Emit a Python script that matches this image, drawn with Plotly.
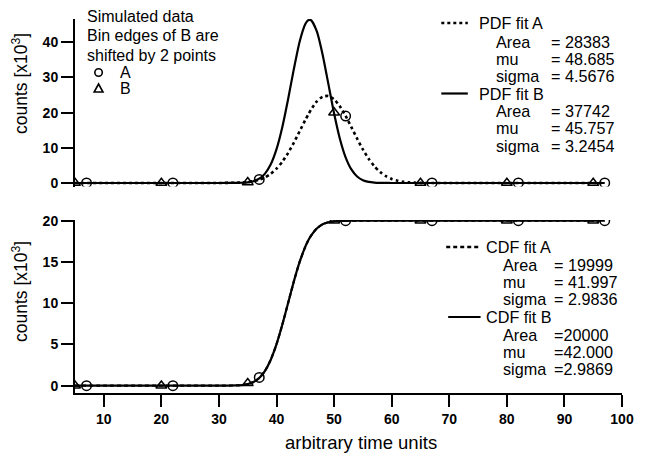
import plotly.graph_objects as go
from plotly.subplots import make_subplots

# ---------------- data ----------------
x_a = [7, 22, 37, 52, 67, 82, 97]          # bin centres, data set A
x_b = [5, 20, 35, 50, 65, 80, 95]          # bin centres, data set B (shifted by 2)
pdf_a = [0, 0, 1.0, 19.0, 0, 0, 0]
pdf_b = [0, 0, 0.2, 20.0, 0, 0, 0]
cdf_a = [0, 0, 1.0, 20.0, 20.0, 20.0, 20.0]
cdf_b = [0, 0, 0.3, 20.0, 20.0, 20.0, 20.0]

x_fit = [5, 10, 15, 20, 25, 30, 33, 34, 35, 36, 37, 38, 39, 40, 41, 42, 43, 44, 45,
         45.5, 46, 47, 48, 49, 50, 51, 52, 53, 54, 55, 56, 57, 58, 59, 60, 61, 62,
         63, 64, 65, 66, 67, 70, 75, 80, 85, 90, 95, 97]
pdf_fit_a = [0, 0, 0, 0, 0, 0, 0.07, 0.14, 0.28, 0.52, 0.94, 1.61, 2.62, 4.07, 6.02,
             8.50, 11.43, 14.65, 17.90, 19.4, 20.86, 23.16, 24.51, 24.73, 23.78, 21.80,
             19.05, 15.87, 12.59, 9.53, 6.88, 4.73, 3.10, 1.94, 1.15, 0.65, 0.35, 0.18,
             0.09, 0.04, 0.02, 0.01, 0, 0, 0, 0, 0, 0, 0]
pdf_fit_b = [0, 0, 0, 0, 0, 0, 0.02, 0.07, 0.19, 0.51, 1.22, 2.67, 5.31, 9.62, 15.85,
             23.74, 32.3, 40.07, 45.15, 46.24, 46.26, 43.1, 36.54, 28.16, 19.74, 12.58,
             7.29, 3.85, 1.84, 0.80, 0.32, 0.12, 0.04, 0.01, 0, 0, 0, 0, 0, 0, 0, 0,
             0, 0, 0, 0, 0, 0, 0]
cdf_fit_a = [0, 0, 0, 0, 0, 0, 0.03, 0.07, 0.19, 0.44, 0.94, 1.80, 3.15, 5.03, 7.38,
             10.0, 12.62, 14.97, 16.85, 17.6, 18.20, 19.06, 19.56, 19.81, 19.93, 19.97,
             19.99, 20, 20, 20, 20, 20, 20, 20, 20, 20, 20, 20, 20, 20, 20, 20, 20, 20,
             20, 20, 20, 20, 20]
cdf_fit_b = [0, 0, 0, 0, 0, 0, 0.03, 0.07, 0.19, 0.44, 0.94, 1.80, 3.15, 5.03, 7.38,
             10.0, 12.62, 14.97, 16.85, 17.6, 18.20, 19.06, 19.56, 19.81, 19.93, 19.97,
             19.99, 20, 20, 20, 20, 20, 20, 20, 20, 20, 20, 20, 20, 20, 20, 20, 20, 20,
             20, 20, 20, 20, 20]

x_ticks = [10, 20, 30, 40, 50, 60, 70, 80, 90, 100]
top_ticks = [0, 10, 20, 30, 40]
bot_ticks = [0, 5, 10, 15, 20]

pdf_a_params = [("Area", "= 28383"), ("mu", "= 48.685"), ("sigma", "= 4.5676")]
pdf_b_params = [("Area", "= 37742"), ("mu", "= 45.757"), ("sigma", "= 3.2454")]
cdf_a_params = [("Area", "= 19999"), ("mu", "= 41.997"), ("sigma", "= 2.9836")]
cdf_b_params = [("Area", "=20000"), ("mu", "=42.000"), ("sigma", "=2.9869")]

# ---------------- layout geometry ----------------
W, H = 646, 453
L, R, T, B = 75, 14, 19, 60
PW, PH = W - L - R, H - T - B
FONT = "Liberation Sans, Arial, Helvetica, sans-serif"
LEG = 16.2


def px(x, y):
    return (x - L) / PW, (H - B - y) / PH


fig = make_subplots(rows=2, cols=1, shared_xaxes=True, vertical_spacing=0.0)

line_kw = dict(color="black", width=2.2, shape="spline", smoothing=0.6)

# top: PDF fits
fig.add_trace(go.Scatter(x=x_fit, y=pdf_fit_a, mode="lines",
                         line=dict(line_kw, dash="dot", width=2.6)), row=1, col=1)
fig.add_trace(go.Scatter(x=x_fit, y=pdf_fit_b, mode="lines", line=line_kw), row=1, col=1)
mk_c = dict(symbol="circle-open", size=9.5, color="black", line=dict(width=1.5))
mk_t = dict(symbol="triangle-up-open", size=9.5, color="black", line=dict(width=1.5))
fig.add_trace(go.Scatter(x=x_a, y=pdf_a, mode="markers", marker=mk_c), row=1, col=1)
fig.add_trace(go.Scatter(x=x_b, y=pdf_b, mode="markers", marker=mk_t), row=1, col=1)

# bottom: CDF fits
fig.add_trace(go.Scatter(x=x_fit, y=cdf_fit_a, mode="lines",
                         line=dict(line_kw, dash="4px,3px")), row=2, col=1)
fig.add_trace(go.Scatter(x=x_fit, y=cdf_fit_b, mode="lines", line=line_kw), row=2, col=1)
fig.add_trace(go.Scatter(x=x_a, y=cdf_a, mode="markers", marker=mk_c), row=2, col=1)
fig.add_trace(go.Scatter(x=x_b, y=cdf_b, mode="markers", marker=mk_t), row=2, col=1)

tickfont = dict(family=FONT, size=14, color="black", weight="bold")
yax = dict(showline=True, linewidth=2, linecolor="black", ticks="outside", ticklen=12,
           tickwidth=2, tickcolor="black", showgrid=False, zeroline=False,
           tickfont=tickfont)

top_d0 = px(0, 186.5)[1]
bot_d1 = px(0, 220)[1]

fig.update_layout(
    width=W, height=H, margin=dict(l=L, r=R, t=T, b=B),
    paper_bgcolor="white", plot_bgcolor="white", showlegend=False,
    font=dict(family=FONT, color="black"),
    xaxis=dict(range=[5, 100], showline=False, showticklabels=False, ticks="",
               showgrid=False, zeroline=False),
    xaxis2=dict(range=[5, 100], showline=True, linewidth=2, linecolor="black",
                ticks="outside", ticklen=12, tickwidth=2, tickcolor="black",
                tickvals=x_ticks, ticktext=[str(v) for v in x_ticks],
                showgrid=False, zeroline=False, tickfont=tickfont),
    yaxis=dict(yax, range=[-1.0, 46.6], tickvals=top_ticks, domain=[top_d0, 1]),
    yaxis2=dict(yax, range=[-0.885, 20.085], tickvals=bot_ticks, domain=[0, bot_d1]),
)

ann = []


def text(x, y, s, size=16, anchor="left", angle=0):
    ax, ay = px(x, y)
    ann.append(dict(x=ax, y=ay, xref="paper", yref="paper", text=s, showarrow=False,
                    xanchor=anchor, yanchor="middle", textangle=angle,
                    font=dict(family=FONT, size=size, color="black")))


shapes = []


def seg(x0, x1, y, dash):
    a0, b0 = px(x0, y)
    a1, _ = px(x1, y)
    shapes.append(dict(type="line", xref="paper", yref="paper", x0=a0, x1=a1, y0=b0,
                       y1=b0, line=dict(color="black", width=2.2 if dash == "solid" else 2.6,
                                        dash=dash)))


# axis titles
text(366, 442, "arbitrary time units", size=18.5, anchor="center")
text(19, 84, "counts [x10<sup>3</sup>]", size=17.5, anchor="center", angle=-90)
text(19, 292, "counts [x10<sup>3</sup>]", size=17.5, anchor="center", angle=-90)

# top-left note
text(85, 17, "Simulated data", size=16)
text(85, 36, "Bin edges of B are", size=16)
text(85, 55, "shifted by 2 points", size=16)
text(119, 72.5, "A", size=16)
text(119, 88.5, "B", size=16)
r = 3.8
c0 = px(99 - r, 72.5 + r)
c1 = px(99 + r, 72.5 - r)
shapes.append(dict(type="circle", xref="paper", yref="paper", x0=c0[0], y0=c0[1],
                   x1=c1[0], y1=c1[1], line=dict(color="black", width=1.6)))
p1 = px(99, 84)
p2 = px(94.5, 92)
p3 = px(103.5, 92)
shapes.append(dict(type="path", xref="paper", yref="paper",
                   path=f"M{p1[0]},{p1[1]} L{p2[0]},{p2[1]} L{p3[0]},{p3[1]} Z",
                   line=dict(color="black", width=1.6)))

# PDF legend
seg(448, 475, 23, "dot")
text(484, 23, "PDF fit A", size=LEG)
for i, (k, v) in enumerate(pdf_a_params):
    text(502, 41.5 + 17.3 * i, k, size=LEG)
    text(558, 41.5 + 17.3 * i, v, size=LEG)
seg(448, 475, 93.5, "solid")
text(484, 93.5, "PDF fit B", size=LEG)
for i, (k, v) in enumerate(pdf_b_params):
    text(502, 111 + 17.3 * i, k, size=LEG)
    text(558, 111 + 17.3 * i, v, size=LEG)

# CDF legend
seg(453, 488, 247, "4px,3px")
text(491, 247, "CDF fit A", size=LEG)
for i, (k, v) in enumerate(cdf_a_params):
    text(509, 264.5 + 17.2 * i, k, size=LEG)
    text(561, 264.5 + 17.2 * i, v, size=LEG)
seg(455, 488, 317, "solid")
text(491, 317, "CDF fit B", size=LEG)
for i, (k, v) in enumerate(cdf_b_params):
    text(509, 334.5 + 17.0 * i, k, size=LEG)
    text(561, 334.5 + 17.0 * i, v, size=LEG)

fig.update_layout(annotations=ann, shapes=shapes)
fig.write_html("out.html", config={"displayModeBar": False},
               post_script="document.body.style.margin='0px';"
                           "document.body.style.overflow='hidden';")
